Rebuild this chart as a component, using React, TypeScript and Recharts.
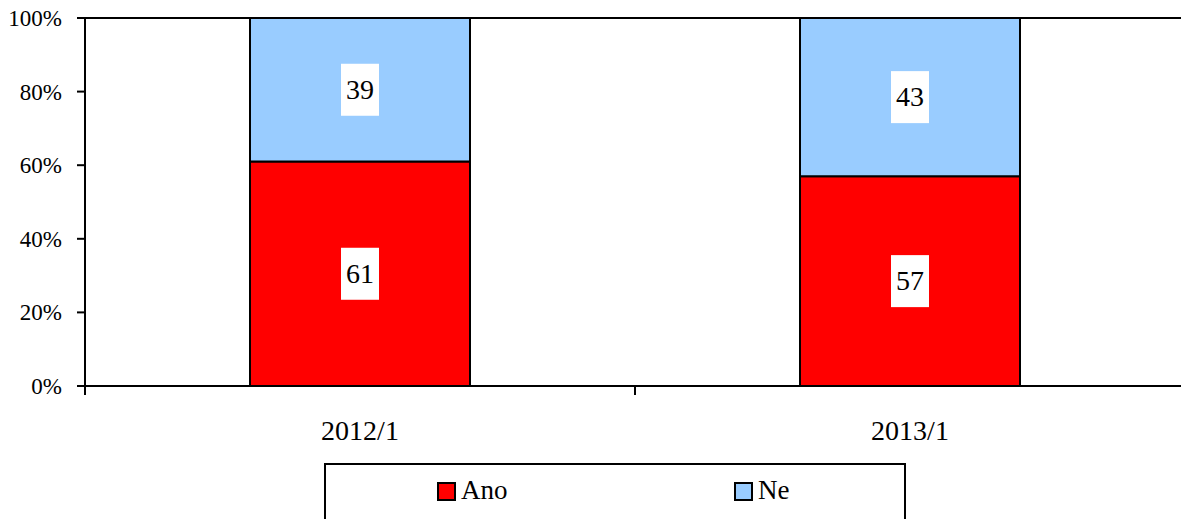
import React from 'react';
import { BarChart, Bar, XAxis, YAxis, ReferenceLine, LabelList } from 'recharts';

const periods = ['2012/1', '2013/1'];
const ano = [61, 57];
const ne = [39, 43];
const yTicks = [0, 20, 40, 60, 80, 100];

const data = periods.map((p, i) => ({ period: p, ano: ano[i], ne: ne[i] }));

const FONT = 'Liberation Serif';

const ValueLabel = (props: any) => {
  const { x, y, width, height, value } = props;
  const cx = x + width / 2;
  const cy = y + height / 2;
  return (
    <g>
      <rect x={cx - 19} y={cy - 26} width={38} height={52} fill="#fff" />
      <text x={cx} y={cy + 9} textAnchor="middle" fontFamily={FONT} fontSize={28} fill="#000">
        {value}
      </text>
    </g>
  );
};

const CategoryTick = (props: any) => {
  const { x, y, payload, width } = props;
  const half = width / periods.length / 2;
  const y0 = y - 8;
  return (
    <g>
      <line x1={x - half} y1={y0} x2={x - half} y2={y0 + 9} stroke="#000" strokeWidth={2} />
      <line x1={x + half} y1={y0} x2={x + half} y2={y0 + 9} stroke="#000" strokeWidth={2} />
      <text x={x} y={y0 + 54} textAnchor="middle" fontFamily={FONT} fontSize={28} fill="#000">
        {payload.value}
      </text>
    </g>
  );
};

const YTick = (props: any) => {
  const { x, y, payload } = props;
  return (
    <text x={x - 13} y={y + 8} textAnchor="end" fontFamily={FONT} fontSize={23} fill="#000">
      {`${payload.value}%`}
    </text>
  );
};

const legendItems = [
  { name: 'Ano', color: '#ff0000', left: 113 },
  { name: 'Ne', color: '#99ccff', left: 410 },
];

const LegendBox = () => (
  <div style={{ position: 'absolute', left: 324, top: 463, width: 582, height: 60 }}>
    <svg width={582} height={60}>
      <rect x={1} y={1} width={580} height={70} fill="#fff" stroke="#000" strokeWidth={2} />
      {legendItems.map((it) => (
        <g key={it.name}>
          <rect x={it.left + 1} y={20} width={17} height={17} fill={it.color} stroke="#000" strokeWidth={2} />
          <text x={it.left + 24} y={36} fontFamily={FONT} fontSize={27} fill="#000">
            {it.name}
          </text>
        </g>
      ))}
    </svg>
  </div>
);

export default function App() {
  return (
    <div style={{ position: 'absolute', left: 0, top: 0, width: 1181, height: 519, overflow: 'hidden', background: '#fff' }}>
      <BarChart
        width={1190}
        height={519}
        data={data}
        margin={{ top: 18, right: 5, left: 0, bottom: 0 }}
        barCategoryGap="30%"
      >
        <XAxis
          dataKey="period"
          height={133}
          axisLine={{ stroke: '#000', strokeWidth: 2 }}
          tickLine={false}
          tick={<CategoryTick />}
          interval={0}
        />
        <YAxis
          width={85}
          domain={[0, 100]}
          ticks={yTicks}
          axisLine={{ stroke: '#000', strokeWidth: 2 }}
          tickLine={{ stroke: '#000', strokeWidth: 2 }}
          tickSize={8}
          tick={<YTick />}
          allowDataOverflow
        />
        <ReferenceLine y={100} stroke="#000" strokeWidth={2} />
        <Bar dataKey="ano" name="Ano" stackId="s" fill="#ff0000" stroke="#000" strokeWidth={2} isAnimationActive={false}>
          <LabelList dataKey="ano" content={<ValueLabel />} />
        </Bar>
        <Bar dataKey="ne" name="Ne" stackId="s" fill="#99ccff" stroke="#000" strokeWidth={2} isAnimationActive={false}>
          <LabelList dataKey="ne" content={<ValueLabel />} />
        </Bar>
      </BarChart>
      <LegendBox />
    </div>
  );
}
